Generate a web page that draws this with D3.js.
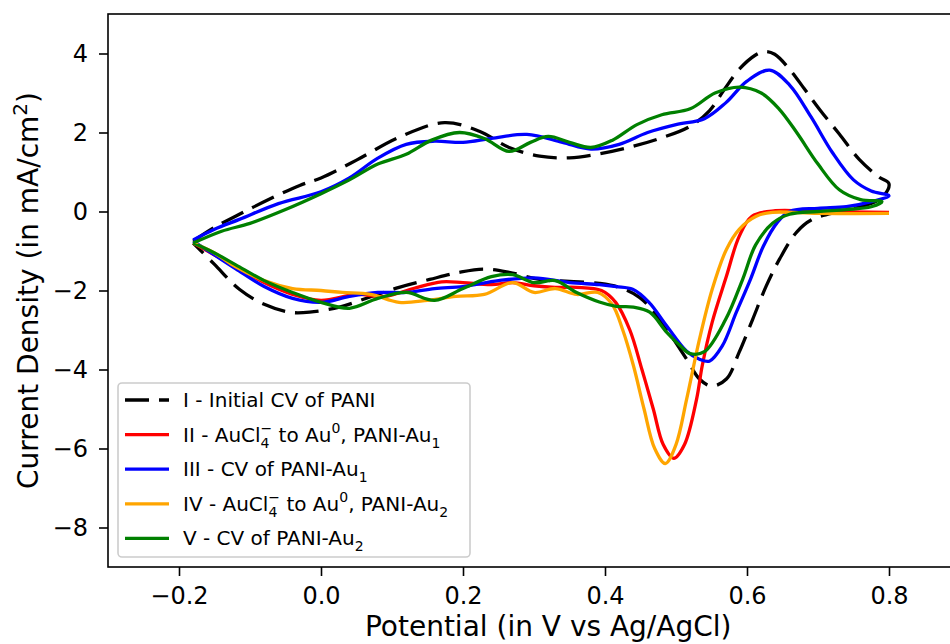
<!DOCTYPE html>
<html>
<head>
<meta charset="utf-8">
<script src="https://cdn.jsdelivr.net/npm/d3@7"></script>
<style>
  body { margin: 0; background: #fff; }
  text { font-family: "DejaVu Sans", sans-serif; }
</style>
</head>
<body>
<svg id="chart" width="950" height="644"></svg>
<script>
// CV curves, [potential (V), current density (mA/cm2)]
const cvI = [[-0.18,-0.75],[-0.15,-0.40],[-0.115,-0.07],[-0.073,0.31],[-0.03,0.66],[0.0,0.85],[0.05,1.3],[0.11,1.88],[0.174,2.25],[0.223,2.03],[0.265,1.62],[0.308,1.40],[0.35,1.36],[0.392,1.46],[0.435,1.63],[0.477,1.85],[0.519,2.15],[0.547,2.55],[0.568,3.09],[0.589,3.6],[0.611,3.95],[0.625,4.05],[0.639,3.98],[0.66,3.6],[0.681,3.1],[0.702,2.59],[0.73,1.96],[0.758,1.32],[0.786,0.87],[0.80,0.70],
  [0.79,0.35],[0.76,0.12],[0.73,0.0],[0.692,-0.2],[0.67,-0.52],[0.646,-1.2],[0.627,-1.89],[0.608,-2.73],[0.589,-3.56],[0.571,-4.24],[0.55,-4.42],[0.533,-4.24],[0.515,-3.74],[0.477,-2.73],[0.449,-2.18],[0.42,-1.92],[0.392,-1.82],[0.35,-1.77],[0.308,-1.72],[0.265,-1.54],[0.23,-1.46],[0.195,-1.54],[0.153,-1.72],[0.11,-1.92],[0.068,-2.17],[0.026,-2.42],[-0.016,-2.55],[-0.044,-2.55],[-0.08,-2.35],[-0.115,-1.97],[-0.15,-1.34],[-0.18,-0.8]];

const cvII = [[0.8,-0.02],[0.7,0.0],[0.64,0.02],[0.607,-0.12],[0.589,-0.63],[0.571,-1.64],[0.551,-2.8],[0.537,-3.9],[0.529,-4.75],[0.512,-5.9],[0.497,-6.25],[0.482,-5.9],[0.468,-5.0],[0.452,-4.0],[0.435,-3.0],[0.415,-2.3],[0.395,-2.0],[0.36,-1.92],[0.33,-1.92],[0.3,-1.88],[0.27,-1.8],[0.24,-1.85],[0.2,-1.8],[0.17,-1.78],[0.13,-1.95],[0.09,-2.15],[0.05,-2.1],[0.0,-2.25],[-0.04,-2.1],[-0.08,-1.8],[-0.12,-1.4],[-0.15,-1.1],[-0.18,-0.8]];

const cvIII = [[-0.18,-0.72],[-0.15,-0.45],[-0.115,-0.2],[-0.06,0.2],[0.0,0.5],[0.04,0.85],[0.08,1.35],[0.12,1.7],[0.16,1.78],[0.2,1.75],[0.24,1.85],[0.29,1.95],[0.34,1.75],[0.38,1.58],[0.42,1.7],[0.46,2.0],[0.5,2.2],[0.54,2.35],[0.57,2.75],[0.6,3.3],[0.632,3.58],[0.66,3.2],[0.69,2.4],[0.72,1.5],[0.75,0.8],[0.775,0.52],[0.8,0.4],
  [0.775,0.25],[0.74,0.12],[0.7,0.08],[0.66,0.0],[0.643,-0.27],[0.623,-0.88],[0.605,-1.71],[0.585,-2.55],[0.565,-3.41],[0.547,-3.79],[0.533,-3.74],[0.515,-3.54],[0.487,-2.9],[0.462,-2.3],[0.439,-1.97],[0.416,-1.9],[0.392,-1.85],[0.35,-1.8],[0.3,-1.68],[0.25,-1.75],[0.2,-1.9],[0.16,-1.95],[0.12,-2.05],[0.08,-2.05],[0.04,-2.15],[0.0,-2.3],[-0.04,-2.2],[-0.08,-1.9],[-0.12,-1.45],[-0.15,-1.1],[-0.18,-0.75]];

const cvIV = [[0.8,-0.05],[0.7,-0.05],[0.636,-0.02],[0.613,-0.12],[0.589,-0.45],[0.571,-0.96],[0.551,-1.97],[0.533,-3.24],[0.515,-4.75],[0.5,-5.9],[0.485,-6.38],[0.47,-6.0],[0.455,-5.0],[0.44,-3.9],[0.425,-3.0],[0.41,-2.35],[0.39,-2.05],[0.36,-2.1],[0.33,-1.95],[0.3,-2.05],[0.27,-1.8],[0.23,-2.1],[0.19,-2.15],[0.15,-2.25],[0.11,-2.3],[0.07,-2.1],[0.03,-2.05],[0.0,-2.0],[-0.04,-1.95],[-0.08,-1.75],[-0.12,-1.4],[-0.15,-1.05],[-0.18,-0.8]];

const cvV = [[-0.18,-0.8],[-0.14,-0.5],[-0.1,-0.3],[-0.05,0.05],[0.0,0.45],[0.04,0.8],[0.08,1.2],[0.12,1.45],[0.155,1.8],[0.195,2.0],[0.23,1.85],[0.265,1.52],[0.295,1.75],[0.32,1.9],[0.35,1.75],[0.38,1.62],[0.41,1.8],[0.445,2.2],[0.48,2.45],[0.52,2.6],[0.555,3.0],[0.59,3.15],[0.62,3.0],[0.645,2.6],[0.67,2.0],[0.7,1.2],[0.73,0.55],[0.76,0.3],[0.79,0.25],
  [0.775,0.12],[0.74,0.05],[0.7,0.0],[0.66,-0.07],[0.636,-0.3],[0.612,-0.85],[0.594,-1.71],[0.57,-2.73],[0.54,-3.55],[0.52,-3.6],[0.506,-3.4],[0.487,-3.06],[0.463,-2.55],[0.44,-2.42],[0.416,-2.4],[0.392,-2.29],[0.36,-2.05],[0.33,-1.75],[0.3,-1.8],[0.27,-1.6],[0.24,-1.65],[0.2,-1.95],[0.16,-2.25],[0.12,-2.05],[0.08,-2.2],[0.04,-2.45],[0.0,-2.3],[-0.04,-2.05],[-0.08,-1.75],[-0.12,-1.35],[-0.15,-1.05],[-0.18,-0.8]];

const xTicks = [-0.2, 0.0, 0.2, 0.4, 0.6, 0.8];
const yTicks = [-8, -6, -4, -2, 0, 2, 4];

const series = [
  { data: cvI, color: "black", dash: "24,10", label: [["I - Initial CV of PANI"]] },
  { data: cvII, color: "red", dash: null, label: [["II - AuCl"], ["4", "sub"], ["\u2212", "supover"], [" to Au"], ["0", "sup"], [", PANI-Au"], ["1", "sub"]] },
  { data: cvIII, color: "blue", dash: null, label: [["III - CV of PANI-Au"], ["1", "sub"]] },
  { data: cvIV, color: "orange", dash: null, label: [["IV - AuCl"], ["4", "sub"], ["\u2212", "supover"], [" to Au"], ["0", "sup"], [", PANI-Au"], ["2", "sub"]] },
  { data: cvV, color: "green", dash: null, label: [["V - CV of PANI-Au"], ["2", "sub"]] }
];

const svg = d3.select("#chart");
const plotL = 108, plotT = 14, plotB = 567;

// x range runs past the right edge of the picture, as in the source image
const x = d3.scaleLinear().domain([-0.3, 0.94]).range([plotL, plotL + 1.24 * 710]);
const y = d3.scaleLinear().domain([-9, 5]).range([plotB, plotT]);
const plotR = x.range()[1];

const fmt = (d, p) => (d < 0 ? "\u2212" : "") + Math.abs(d).toFixed(p);

// curves
const line = d3.line()
  .x(d => x(d[0]))
  .y(d => y(d[1]))
  .curve(d3.curveCatmullRom.alpha(0.5));

series.forEach(s => {
  svg.append("path")
    .datum(s.data)
    .attr("d", line)
    .attr("fill", "none")
    .attr("stroke", s.color)
    .attr("stroke-width", 3.3)
    .attr("stroke-dasharray", s.dash)
    .attr("stroke-linejoin", "round");
});

// axes
const xAxis = svg.append("g")
  .attr("transform", `translate(0,${plotB})`)
  .call(d3.axisBottom(x).tickValues(xTicks).tickSize(9).tickPadding(11).tickFormat(d => fmt(d, 1)));
const yAxis = svg.append("g")
  .attr("transform", `translate(${plotL},0)`)
  .call(d3.axisLeft(y).tickValues(yTicks).tickSize(9).tickPadding(11).tickFormat(d => fmt(d, 0)));

[xAxis, yAxis].forEach(g => {
  g.select(".domain").remove();
  g.selectAll("line").attr("stroke", "#000").attr("stroke-width", 1.6);
  g.selectAll("text").attr("fill", "#000").style("font-size", "24px");
});

// frame
svg.append("rect")
  .attr("x", plotL).attr("y", plotT)
  .attr("width", plotR - plotL).attr("height", plotB - plotT)
  .attr("fill", "none").attr("stroke", "#000").attr("stroke-width", 1.6);

// axis labels
svg.append("text")
  .attr("x", (plotL + plotR) / 2).attr("y", 636)
  .attr("text-anchor", "middle").style("font-size", "28px")
  .text("Potential (in V vs Ag/AgCl)");

const yl = svg.append("text")
  .attr("transform", `translate(38,${(plotT + plotB) / 2}) rotate(-90)`)
  .attr("text-anchor", "middle").style("font-size", "28px");
yl.append("tspan").text("Current Density (in mA/cm");
yl.append("tspan").attr("dy", -11).style("font-size", "20px").text("2");
yl.append("tspan").attr("dy", 11).text(")");

// legend
const lg = svg.append("g");
lg.append("rect")
  .attr("x", 118).attr("y", 383).attr("width", 352).attr("height", 174).attr("rx", 4)
  .attr("fill", "#fff").attr("fill-opacity", 0.8)
  .attr("stroke", "#cccccc").attr("stroke-width", 1.6);

series.forEach((s, i) => {
  const cy = 400 + i * 34.6;
  lg.append("line")
    .attr("x1", 125).attr("x2", 169).attr("y1", cy).attr("y2", cy)
    .attr("stroke", s.color).attr("stroke-width", 3.3)
    .attr("stroke-dasharray", s.dash);
  const t = lg.append("text").attr("x", 183).attr("y", cy + 7).style("font-size", "20px");
  let shift = 0;
  s.label.forEach(([str, kind]) => {
    const ts = t.append("tspan").text(str);
    if (kind === "sub") {
      ts.attr("dy", 6 - shift).style("font-size", "14px"); shift = 6;
    } else if (kind === "sup") {
      ts.attr("dy", -9 - shift).style("font-size", "14px"); shift = -9;
    } else if (kind === "supover") {
      ts.attr("dx", -9).attr("dy", -9 - shift).style("font-size", "14px"); shift = -9;
    } else {
      ts.attr("dy", -shift); shift = 0;
    }
  });
});
</script>
</body>
</html>
